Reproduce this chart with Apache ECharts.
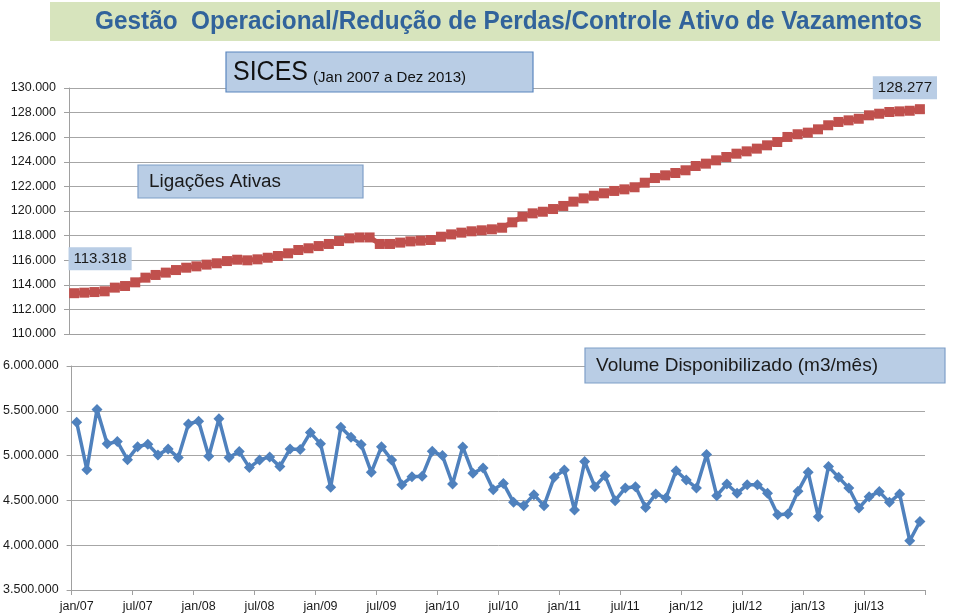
<!DOCTYPE html>
<html><head><meta charset="utf-8">
<script src="https://cdn.jsdelivr.net/npm/echarts@6/dist/echarts.min.js"></script>
<style>html,body{margin:0;padding:0;background:#fff}#c{width:960px;height:616px}</style>
</head><body><div id="c"></div>
<script>
const categories = [
'jan/07','fev/07','mar/07','abr/07','mai/07','jun/07','jul/07','ago/07','set/07','out/07','nov/07','dez/07',
'jan/08','fev/08','mar/08','abr/08','mai/08','jun/08','jul/08','ago/08','set/08','out/08','nov/08','dez/08',
'jan/09','fev/09','mar/09','abr/09','mai/09','jun/09','jul/09','ago/09','set/09','out/09','nov/09','dez/09',
'jan/10','fev/10','mar/10','abr/10','mai/10','jun/10','jul/10','ago/10','set/10','out/10','nov/10','dez/10',
'jan/11','fev/11','mar/11','abr/11','mai/11','jun/11','jul/11','ago/11','set/11','out/11','nov/11','dez/11',
'jan/12','fev/12','mar/12','abr/12','mai/12','jun/12','jul/12','ago/12','set/12','out/12','nov/12','dez/12',
'jan/13','fev/13','mar/13','abr/13','mai/13','jun/13','jul/13','ago/13','set/13','out/13','nov/13','dez/13'];

const ligacoesAtivas = [
113318,113360,113410,113470,113770,113900,114200,114580,114800,114990,115200,115390,
115500,115640,115750,115930,116040,115990,116070,116200,116340,116560,116830,116970,
117150,117320,117560,117780,117850,117850,117320,117320,117430,117530,117590,117640,
117910,118100,118240,118350,118430,118510,118640,119080,119540,119810,119940,120160,
120410,120760,121030,121240,121440,121630,121760,121930,122300,122680,122900,123090,
123310,123660,123850,124120,124390,124660,124850,125070,125340,125610,126020,126240,
126370,126640,126970,127240,127370,127500,127780,127910,128050,128100,128150,128277];

const volumeDisponibilizado = [
5372000,4843000,5515000,5131000,5157000,4955000,5100000,5127000,5008000,5075000,4978000,5354000,
5384000,4993000,5410000,4978000,5045000,4866000,4952000,4985000,4877000,5075000,5067000,5257000,
5131000,4646000,5317000,5205000,5125000,4813000,5100000,4952000,4676000,4765000,4769000,5048000,
5000000,4683000,5097000,4802000,4862000,4620000,4690000,4478000,4441000,4564000,4441000,4757000,
4840000,4393000,4933000,4653000,4776000,4497000,4639000,4653000,4422000,4572000,4527000,4832000,
4728000,4639000,5011000,4553000,4683000,4579000,4676000,4676000,4579000,4340000,4348000,4601000,
4813000,4318000,4877000,4757000,4639000,4415000,4542000,4598000,4478000,4572000,4049000,4265000];

const titleText = 'Gestão  Operacional/Redução de Perdas/Controle Ativo de Vazamentos';
const sicesText = 'SICES';
const sicesSub = '(Jan 2007 a Dez 2013)';
const ligText = 'Ligações Ativas';
const volText = 'Volume Disponibilizado (m3/mês)';

const FONT = '"Liberation Sans", Arial, sans-serif';
const fmt = v => String(Math.round(v)).replace(/\B(?=(\d{3})+(?!\d))/g, '.');

const mctx = document.createElement('canvas').getContext('2d');
function fitScale(text, font, target) {
  mctx.font = font;
  const w = mctx.measureText(text).width;
  return w > 0 ? target / w : 1;
}
function txt(text, x, y, size, weight, color, targetW) {
  const font = (weight ? weight + ' ' : '') + size + 'px ' + FONT;
  return {
    type: 'text', x: x, y: y, scaleX: fitScale(text, font, targetW), scaleY: 1, z: 20,
    style: { text: text, font: font, fill: color, align: 'left', verticalAlign: 'middle',
             textAlign: 'left', textVerticalAlign: 'middle' }
  };
}
function box(x, y, w, h, stroke) {
  return { type: 'rect', z: 10, shape: { x: x, y: y, width: w, height: h },
           style: { fill: '#b9cde5', stroke: stroke || null, lineWidth: stroke ? 1.2 : 0 } };
}

const axisLabelStyle = { fontFamily: FONT, fontSize: 12.5, color: '#1a1a1a' };
const gridLine = { lineStyle: { color: '#a6a6a6', width: 1 } };
const axisLine = { show: true, lineStyle: { color: '#a0a0a0', width: 1 } };

const lastIdx = ligacoesAtivas.length - 1;
const valueLabel = (offset) => ({
  show: true, position: 'top', distance: 5, offset: offset,
  formatter: p => fmt(p.value), backgroundColor: '#b9cde5', padding: [4, 5, 4, 5],
  fontFamily: FONT, fontSize: 15, lineHeight: 15, color: '#1a1a1a'
});
const ligData = ligacoesAtivas.map((v, i) => {
  if (i === 0) return { value: v, label: valueLabel([26, -13]) };
  if (i === lastIdx) return { value: v, label: valueLabel([-15, 0]) };
  return v;
});

const chart = echarts.init(document.getElementById('c'), null, { renderer: 'canvas' });
chart.setOption({
  animation: false,
  backgroundColor: '#ffffff',
  grid: [
    { left: 69, right: 35, top: 88, height: 246 },
    { left: 69, right: 35, top: 366, height: 224 }
  ],
  xAxis: [
    { type: 'category', gridIndex: 0, data: categories, boundaryGap: true,
      axisLine: axisLine, axisTick: { show: false }, axisLabel: { show: false }, splitLine: { show: false } },
    { type: 'category', gridIndex: 1, data: categories, boundaryGap: true,
      axisLine: axisLine,
      axisTick: { show: true, interval: 5, length: 5, lineStyle: { color: '#a0a0a0' } },
      axisLabel: Object.assign({ interval: 5, margin: 10 }, axisLabelStyle),
      splitLine: { show: false } }
  ],
  yAxis: [
    { type: 'value', gridIndex: 0, min: 110000, max: 130000, interval: 2000,
      axisLine: axisLine, axisTick: { show: true, length: 5, lineStyle: { color: '#a0a0a0' } },
      axisLabel: Object.assign({ formatter: fmt, margin: 13 }, axisLabelStyle),
      splitLine: gridLine },
    { type: 'value', gridIndex: 1, min: 3500000, max: 6000000, interval: 500000,
      axisLine: axisLine, axisTick: { show: true, length: 5, lineStyle: { color: '#a0a0a0' } },
      axisLabel: Object.assign({ formatter: fmt, margin: 13 }, axisLabelStyle),
      splitLine: gridLine }
  ],
  series: [
    { name: 'Ligações Ativas', type: 'line', xAxisIndex: 0, yAxisIndex: 0, data: ligData,
      symbol: 'rect', symbolSize: 10, showAllSymbol: true,
      lineStyle: { color: '#c0504d', width: 5 }, itemStyle: { color: '#c0504d' }, z: 5 },
    { name: 'Volume Disponibilizado', type: 'line', xAxisIndex: 1, yAxisIndex: 1, data: volumeDisponibilizado,
      symbol: 'diamond', symbolSize: 11, showAllSymbol: true,
      lineStyle: { color: '#4f81bd', width: 3.5 }, itemStyle: { color: '#4f81bd' }, z: 5 }
  ],
  graphic: [
    { type: 'rect', z: 1, shape: { x: 50, y: 2, width: 890, height: 39 }, style: { fill: '#d7e4bd' } },
    txt(titleText, 95, 22, 26, 'bold', '#31639b', 827),
    box(226, 52, 307, 40, '#5a86be'),
    txt(sicesText, 233, 73, 27, '', '#111', 75),
    txt(sicesSub, 313, 77.5, 15, '', '#111', 153),
    box(138, 165, 225, 33, '#7f9fc8'),
    txt(ligText, 149, 182, 18, '', '#1a1a1a', 132),
    box(585, 348, 360, 35, '#7f9fc8'),
    txt(volText, 596, 366, 19, '', '#1a1a1a', 282)
  ]
});
</script>
</body></html>
